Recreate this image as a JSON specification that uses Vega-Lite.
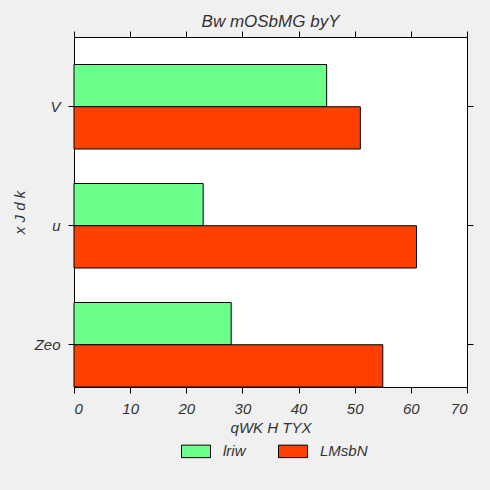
{
  "$schema": "https://vega.github.io/schema/vega-lite/v6.json",
  "autosize": {"type": "none"},
  "width": 393,
  "height": 350,
  "padding": {"left": 74, "top": 37, "right": 23, "bottom": 103},
  "background": "#f0f0f0",
  "title": {
    "text": "Bw mOSbMG byY",
    "font": "Liberation Sans",
    "fontSize": 17,
    "fontStyle": "italic",
    "fontWeight": "normal",
    "color": "#333333",
    "offset": 0
  },
  "data": {
    "values": [
      {"group": "V", "series": "lriw", "value": 45},
      {"group": "V", "series": "LMsbN", "value": 51},
      {"group": "u", "series": "lriw", "value": 23},
      {"group": "u", "series": "LMsbN", "value": 61},
      {"group": "Zeo", "series": "lriw", "value": 28},
      {"group": "Zeo", "series": "LMsbN", "value": 55}
    ]
  },
  "layer": [
    {
      "mark": {"type": "bar", "stroke": "black", "strokeWidth": 1},
      "encoding": {
        "y": {
          "field": "group",
          "type": "nominal",
          "sort": ["V", "u", "Zeo"],
          "scale": {"paddingInner": 0.29, "paddingOuter": 0.1155, "align": 1},
          "axis": {"orient": "left", "title": "x J d k", "labelPadding": 8, "titlePadding": 7}
        },
        "yOffset": {
          "field": "series",
          "type": "nominal",
          "sort": ["lriw", "LMsbN"],
          "scale": {"paddingInner": 0, "paddingOuter": 0}
        },
        "x": {
          "field": "value",
          "type": "quantitative",
          "scale": {"domain": [0, 70], "nice": false},
          "axis": {"orient": "bottom", "values": [0, 10, 20, 30, 40, 50, 60, 70], "title": "qWK H TYX", "labelPadding": 8, "titlePadding": 4}
        },
        "color": {
          "field": "series",
          "type": "nominal",
          "sort": ["lriw", "LMsbN"],
          "scale": {"range": ["#6cff8c", "#ff4000"]},
          "legend": {
            "orient": "none",
            "legendX": 107,
            "legendY": 399,
            "direction": "horizontal",
            "title": null,
            "symbolType": "M-1,-0.43H1V0.43H-1Z",
            "symbolSize": 841,
            "symbolStrokeColor": "black",
            "symbolStrokeWidth": 1,
            "symbolOpacity": 1,
            "labelFont": "Liberation Sans",
            "labelFontSize": 15,
            "labelFontStyle": "italic",
            "labelColor": "#333333",
            "labelOffset": 12,
            "columnPadding": 30
          }
        }
      }
    },
    {
      "mark": {"type": "bar", "opacity": 0},
      "encoding": {
        "y": {
          "field": "group",
          "type": "nominal",
          "sort": ["V", "u", "Zeo"],
          "axis": {"orient": "right", "labels": false, "title": null}
        },
        "yOffset": {"field": "series", "type": "nominal", "sort": ["lriw", "LMsbN"]},
        "x": {
          "field": "value",
          "type": "quantitative",
          "axis": {"orient": "top", "labels": false, "title": null, "values": [0, 10, 20, 30, 40, 50, 60, 70]}
        }
      }
    }
  ],
  "resolve": {"axis": {"x": "independent", "y": "independent"}},
  "config": {
    "view": {"stroke": "black", "strokeWidth": 1, "fill": "white"},
    "axis": {
      "grid": false,
      "domain": false,
      "ticks": true,
      "tickColor": "black",
      "tickSize": 6,
      "tickWidth": 1,
      "labelFont": "Liberation Sans",
      "labelFontSize": 15,
      "labelFontStyle": "italic",
      "labelColor": "#333333",
      "titleFont": "Liberation Sans",
      "titleFontSize": 15,
      "titleFontStyle": "italic",
      "titleFontWeight": "normal",
      "titleColor": "#333333"
    }
  }
}
